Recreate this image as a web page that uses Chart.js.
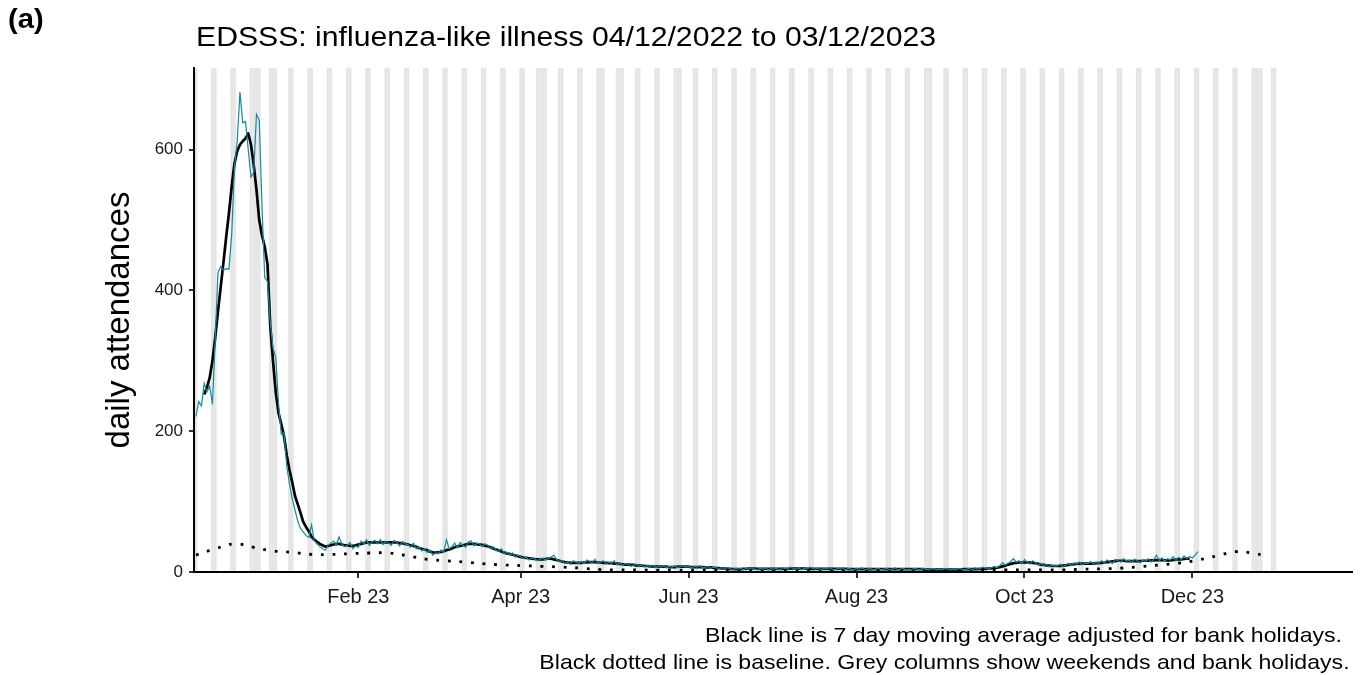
<!DOCTYPE html>
<html>
<head>
<meta charset="utf-8">
<script src="https://cdn.jsdelivr.net/npm/chart.js@4.4.1/dist/chart.umd.min.js"></script>
<style>
  html, body { margin: 0; padding: 0; background: #fff; }
  #wrap { position: relative; width: 1367px; height: 675px; font-family: "Liberation Sans", Arial, sans-serif; color: #000; }
  #chart { position: absolute; left: 0; top: 0; }
  .txt { position: absolute; white-space: nowrap; line-height: 1; }
  #tag { left: 8px; top: 6px; font-size: 27px; font-weight: bold; transform-origin: left top; transform: scaleX(1.08); }
  #title { left: 196px; top: 24px; font-size: 27px; transform-origin: left top; transform: scaleX(1.118); }
  .cap { font-size: 21px; transform-origin: right top; transform: scaleX(1.1); }
</style>
</head>
<body>
<div id="wrap">
  <canvas id="chart" width="1367" height="675"></canvas>
  <div id="tag" class="txt">(a)</div>
  <div id="title" class="txt">EDSSS: influenza-like illness 04/12/2022 to 03/12/2023</div>
  <div class="txt cap" style="top:624px; right:25px">Black line is 7 day moving average adjusted for bank holidays.</div>
  <div class="txt cap" style="top:651px; right:17px">Black dotted line is baseline. Grey columns show weekends and bank holidays.</div>
</div>
<script>
// day 0 = 4 Dec 2022
const startDate = '2022-12-04';
const lastShadedDate = '2023-12-31';

// daily attendances, 04/12/2022 .. 03/12/2023
const dailyCounts = [
  221, 242, 236, 268, 256, 264, 238, 330, 425, 434,
  429, 431, 430, 480, 575, 612, 682, 638, 640, 600,
  561, 568, 650, 642, 520, 418, 413, 355, 318, 305,
  240, 196, 198, 150, 125, 104, 88, 72, 62, 57,
  52, 49, 67, 44, 40, 36, 33, 31, 38, 41,
  44, 38, 50, 40, 36, 38, 42, 33, 37, 35,
  44, 40, 46, 38, 43, 45, 40, 46, 39, 44,
  41, 38, 45, 42, 37, 43, 40, 39, 35, 41,
  33, 36, 30, 33, 28, 31, 24, 27, 26, 31,
  28, 46, 33, 36, 41, 34, 42, 38, 35, 43,
  44, 37, 41, 40, 36, 40, 38, 33, 36, 31,
  29, 33, 26, 28, 24, 27, 21, 24, 22, 19,
  21, 17, 20, 19, 16, 18, 20, 17, 19, 21,
  24, 18, 15, 16, 12, 14, 11, 16, 14, 12,
  15, 12, 17, 15, 13, 18, 12, 14, 16, 11,
  14, 12, 16, 10, 13, 9, 12, 11, 8, 10,
  11, 8, 10, 7, 9, 8, 10, 6, 8, 7,
  9, 6, 8, 7, 9, 6, 8, 9, 7, 8,
  6, 8, 7, 9, 6, 7, 8, 5, 7, 6,
  5, 6, 4, 6, 5, 3, 5, 4, 5, 3,
  5, 4, 6, 4, 3, 5, 4, 6, 3, 5,
  4, 5, 3, 6, 5, 4, 7, 5, 4, 6,
  3, 5, 4, 7, 5, 4, 6, 3, 5, 4,
  6, 4, 3, 5, 4, 6, 3, 5, 4, 3,
  5, 4, 6, 3, 4, 5, 3, 4, 5, 3,
  4, 5, 3, 4, 6, 3, 4, 5, 3, 4,
  3, 5, 4, 3, 5, 4, 3, 4, 5, 3,
  4, 3, 5, 4, 3, 4, 3, 5, 4, 3,
  4, 5, 3, 6, 4, 5, 7, 5, 4, 6,
  8, 6, 9, 13, 10, 12, 15, 19, 14, 16,
  12, 18, 14, 11, 16, 13, 10, 12, 9, 11,
  7, 10, 8, 9, 11, 7, 10, 12, 9, 13,
  11, 14, 10, 13, 12, 15, 11, 14, 12, 16,
  13, 17, 15, 12, 18, 16, 14, 19, 15, 17,
  14, 18, 16, 13, 17, 15, 19, 14, 18, 24,
  16, 20, 15, 19, 17, 22, 16, 21, 18, 23,
  19, 22, 20, 24, 29
];

// 7 day moving average adjusted for bank holidays
const movingAverage = [
  null, null, null, 252, 262, 276, 300, 333, 370, 405,
  440, 476, 510, 548, 580, 598, 607, 612, 616, 623,
  607, 578, 543, 500, 478, 462, 437, 350, 300, 255,
  226, 210, 193, 166, 145, 127, 108, 96, 84, 71,
  64, 58, 50, 46, 43, 40, 38, 36, 37, 38,
  39, 40, 40, 39, 38, 38, 37, 37, 38, 39,
  40, 41, 42, 42, 42, 42, 42, 42, 42, 42,
  42, 42, 42, 42, 41, 41, 40, 39, 38, 37,
  36, 34, 33, 32, 31, 29, 28, 27.5, 28, 28.5,
  29.5, 31, 32, 33.5, 35, 36.5, 37, 38, 39, 40,
  40, 40, 39.5, 39, 38.5, 37.5, 36.5, 35, 33.5, 32,
  30.5, 29, 27.5, 26.5, 25.5, 24.5, 23.5, 22.5, 21.5, 20.5,
  20, 19.5, 19, 18.5, 18, 18, 18, 18.5, 19, 19,
  18, 17, 16, 15, 14, 13.5, 13, 13, 13, 13,
  13, 13.5, 13.5, 14, 14, 14, 13.5, 13.5, 13, 13,
  12.5, 12.5, 12, 12, 11.5, 11, 10.5, 10.5, 10, 10,
  9.5, 9, 9, 8.5, 8.5, 8, 8, 7.5, 7.5, 7.5,
  7.5, 7.5, 7, 7, 7, 7.5, 7.5, 7.5, 7.5, 7.5,
  7, 7, 7, 7, 7, 6.5, 6.5, 6.5, 6, 5.5,
  5.5, 5, 5, 4.5, 4.5, 4, 4, 4, 4, 4.5,
  4.5, 5, 5, 5, 4.5, 4.5, 4.5, 4.5, 4.5, 4.5,
  4.5, 4.5, 4.5, 4.5, 4.5, 4.5, 5, 5, 5, 5,
  5, 5, 4.5, 4.5, 4.5, 4.5, 4.5, 4.5, 4.5, 4.5,
  4.5, 4.5, 4.5, 4.5, 4.5, 4.5, 4.5, 4, 4, 4,
  4, 4, 4, 4, 4, 4, 4, 4, 4, 4,
  4, 4, 4, 4, 4, 4, 4, 4, 4, 4,
  4, 4, 4, 4, 4, 3.5, 3.5, 3.5, 3.5, 3.5,
  3.5, 3.5, 3.5, 3.5, 3.5, 3.5, 3.5, 3.5, 3.5, 4,
  4, 4, 4, 4, 4, 4.5, 4.5, 4.5, 5, 5,
  5.5, 6, 7, 8, 9, 10.5, 11.5, 12.5, 13, 13.5,
  13.5, 13.5, 13.5, 13.5, 13, 12.5, 11.5, 10.5, 10, 9.5,
  9, 8.5, 8.5, 8.5, 8.5, 9, 9.5, 10, 10.5, 11,
  11.5, 12, 12, 12, 12, 12, 12, 12.5, 12.5, 13,
  13.5, 14, 14.5, 15, 15.5, 16, 16, 16, 15.5, 15.5,
  15.5, 15.5, 15.5, 15.5, 16, 16, 16, 16.5, 16.5, 17,
  17, 17, 16.5, 16.5, 16.5, 17, 17.5, 18, 18, 18.5,
  19, 19, null, null, null
];

// baseline, read weekly
const baselineDays = [0, 7, 14, 21, 28, 35, 42, 49, 56, 63, 70, 77, 84, 91, 98, 105, 112, 119, 126, 133,
  140, 147, 154, 161, 168, 175, 182, 189, 196, 203, 210, 217, 224, 231, 238, 245, 252, 259, 266, 273,
  280, 287, 294, 301, 308, 315, 322, 329, 336, 343, 350, 357, 364, 371, 378, 385, 388];
const baselineValues = [24, 33, 40, 35, 30, 28, 25, 25, 26, 27, 27, 23, 18, 16, 14, 11.5, 10, 9, 8, 7,
  5.5, 3.5, 3, 3, 2.5, 2.5, 2.5, 2.5, 2.5, 2.5, 2.5, 2.5, 2.5, 2.5, 2.5, 2.5, 2.5, 2.5, 2.5, 2.5,
  2.5, 2.5, 3, 3, 3, 3, 4, 4.5, 5.5, 7.5, 10, 12.5, 17, 23, 29, 26, 24];

const bankHolidays = ['2022-12-26', '2022-12-27', '2023-01-02', '2023-04-07', '2023-04-10',
  '2023-05-01', '2023-05-08', '2023-05-29', '2023-08-28', '2023-12-25', '2023-12-26'];

const xTickDates = ['2023-02-01', '2023-04-01', '2023-06-01', '2023-08-01', '2023-10-01', '2023-12-01'];
const xTickLabels = ['Feb 23', 'Apr 23', 'Jun 23', 'Aug 23', 'Oct 23', 'Dec 23'];
const yTickValues = [0, 200, 400, 600];

const DAY = 86400000;
const t0 = Date.parse(startDate);
const dayOf = s => Math.round((Date.parse(s) - t0) / DAY);

const holidayDays = bankHolidays.map(dayOf);
const greyDays = [];
for (let d = 0; d <= dayOf(lastShadedDate); d++) {
  const wd = new Date(t0 + d * DAY).getUTCDay();
  if (wd === 0 || wd === 6 || holidayDays.includes(d)) greyDays.push(d);
}
const xTickDays = xTickDates.map(dayOf);

const FONT = '"Liberation Sans", Arial, sans-serif';
Chart.defaults.font.family = FONT;

const greyColumns = {
  id: 'greyColumns',
  beforeDraw(chart) {
    const { ctx, chartArea: a, scales: { x } } = chart;
    ctx.save();
    ctx.beginPath();
    ctx.rect(a.left, a.top, a.width, a.height);
    ctx.clip();
    ctx.fillStyle = '#e5e5e5';
    greyDays.forEach(d => {
      const x0 = x.getPixelForValue(d - 0.5);
      const x1 = x.getPixelForValue(d + 0.5);
      ctx.fillRect(x0, a.top, x1 - x0, a.height);
    });
    ctx.restore();
  }
};

new Chart(document.getElementById('chart'), {
  type: 'line',
  data: {
    datasets: [
      {
        data: dailyCounts.map((v, i) => ({ x: i, y: v })),
        borderColor: '#158a9c',
        borderWidth: 1.2,
        tension: 0
      },
      {
        data: movingAverage.map((v, i) => ({ x: i, y: v })),
        borderColor: '#000',
        borderWidth: 2.7,
        borderJoinStyle: 'round',
        tension: 0
      },
      {
        data: baselineDays.map((d, i) => ({ x: d, y: baselineValues[i] })),
        borderColor: '#000',
        borderWidth: 2.8,
        borderDash: [2.8, 8.8],
        borderCapStyle: 'butt',
        tension: 0.4
      }
    ]
  },
  options: {
    responsive: false,
    animation: false,
    layout: { padding: { left: 0, right: 15, top: 68, bottom: 0 } },
    elements: { point: { radius: 0 } },
    plugins: { legend: { display: false }, tooltip: { enabled: false } },
    scales: {
      x: {
        type: 'linear',
        min: -0.7,
        max: 420,
        afterBuildTicks: s => { s.ticks = xTickDays.map(v => ({ value: v })); },
        afterFit: s => { s.height = 103; },
        ticks: {
          callback: (v, i) => xTickLabels[i],
          font: { size: 20 },
          color: '#1a1a1a',
          padding: 7,
          maxRotation: 0,
          autoSkip: false
        },
        grid: { drawOnChartArea: false, tickLength: 6, color: '#333', lineWidth: 2 },
        border: { color: '#000', width: 2 }
      },
      y: {
        min: 0,
        max: 716,
        afterBuildTicks: s => { s.ticks = yTickValues.map(v => ({ value: v })); },
        afterFit: s => { s.width = 194; },
        ticks: { font: { size: 17 }, color: '#1a1a1a', padding: 6 },
        grid: { drawOnChartArea: false, tickLength: 5, color: '#333', lineWidth: 2 },
        border: { color: '#000', width: 2 },
        title: {
          display: true,
          text: 'daily attendances',
          font: { size: 33 },
          color: '#000',
          padding: { top: 100 }
        }
      }
    }
  },
  plugins: [greyColumns]
});
</script>
</body>
</html>
